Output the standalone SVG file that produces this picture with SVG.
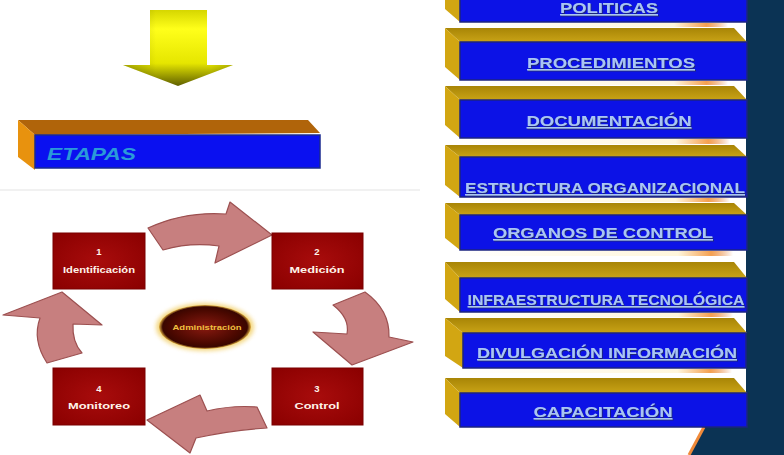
<svg xmlns="http://www.w3.org/2000/svg" width="784" height="455" viewBox="0 0 784 455">
<defs>
<linearGradient id="ygrad" x1="0" y1="0" x2="0" y2="1">
<stop offset="0" stop-color="#d6d600"/><stop offset="0.25" stop-color="#ffff1a"/><stop offset="0.7" stop-color="#e6e600"/><stop offset="1" stop-color="#5e5e00"/>
</linearGradient>
<linearGradient id="yshade" x1="0" y1="0" x2="1" y2="0">
<stop offset="0" stop-color="#000" stop-opacity="0.25"/><stop offset="0.3" stop-color="#000" stop-opacity="0"/><stop offset="0.8" stop-color="#000" stop-opacity="0"/><stop offset="1" stop-color="#000" stop-opacity="0.2"/>
</linearGradient>
<linearGradient id="topface" x1="0" y1="0" x2="0" y2="1">
<stop offset="0" stop-color="#a88506"/><stop offset="1" stop-color="#c9a316"/>
</linearGradient>
<linearGradient id="hl" x1="0" y1="0" x2="1" y2="0">
<stop offset="0" stop-color="#ffffff"/><stop offset="0.8" stop-color="#fff6dc"/><stop offset="0.92" stop-color="#f4a050"/><stop offset="1" stop-color="#e07020" stop-opacity="0"/>
</linearGradient>
<radialGradient id="boxg" cx="0.5" cy="0.5" r="0.7">
<stop offset="0" stop-color="#a80c0c"/><stop offset="1" stop-color="#8a0000"/>
</radialGradient>
<radialGradient id="ellg" cx="0.5" cy="0.5" r="0.5">
<stop offset="0" stop-color="#8a1a10"/><stop offset="0.75" stop-color="#4a0800"/><stop offset="0.92" stop-color="#3a0600"/><stop offset="1" stop-color="#e0b040"/>
</radialGradient>
<filter id="glow" x="-20%" y="-40%" width="140%" height="180%">
<feGaussianBlur stdDeviation="2"/>
</filter>
<filter id="tsh" x="-5%" y="-30%" width="110%" height="160%">
<feDropShadow dx="1" dy="1" stdDeviation="0.4" flood-color="#1a2a70" flood-opacity="0.9"/>
</filter>
</defs>
<style>
.face-top{fill:url(#topface)}
.face-left{fill:#d2a612}
.face-front{fill:#0c12e6;stroke:#1c2480;stroke-width:1.5}
.lbl{font-family:"Liberation Sans",Arial,sans-serif;font-weight:bold;font-size:15px;fill:#a9c5f4;text-anchor:middle;text-decoration:underline;filter:url(#tsh)}
.box{fill:url(#boxg);stroke:#7a0000;stroke-width:1}
.btxt{font-family:"Liberation Sans",Arial,sans-serif;font-weight:bold;font-size:9.5px;fill:#fff4ea;text-anchor:middle}
.carrow{fill:#c77f7f;stroke:#9c5050;stroke-width:1.2;stroke-linejoin:round}
</style>
<rect width="784" height="455" fill="#ffffff"/>
<!-- dark background right -->
<polygon points="746,0 784,0 784,455 689,455 704,427 746,427" fill="#0b3354"/>
<line x1="704" y1="427" x2="689" y2="455" stroke="#f08a3a" stroke-width="3"/>
<line x1="0" y1="190" x2="420" y2="190" stroke="#ececec" stroke-width="1.5"/>

<g id="arrow-down">
<polygon points="150,10 207,10 207,65 233,65 178,86 123,65 150,65" fill="url(#ygrad)"/>
<polygon points="150,10 207,10 207,65 233,65 178,86 123,65 150,65" fill="url(#yshade)"/>
</g>

<g id="etapas">
<polygon points="18,120 308,120 320,133 35,135" fill="#b0640a"/>
<polygon points="18,120 35,135 35,170 18,157" fill="#e8920e"/>
<rect x="35" y="135" width="285" height="33" fill="#0a10f0" stroke="#1a2a90" stroke-width="1.5"/>
<text x="47" y="160" font-family="Liberation Sans,Arial,sans-serif" font-weight="bold" font-style="italic" font-size="17" fill="#2a9ad8" textLength="89" lengthAdjust="spacingAndGlyphs">ETAPAS</text>
</g>

<g id="connectors">
<path class="carrow" d="M148,228 Q185,211 226,214 L230,202 L272,235 L215,263 L219,246 Q190,242 163,250 Z"/>
<path class="carrow" d="M333,305 L365,292 Q390,310 389,337 L413,342 L352,365 L313,332 L347,334 Q350,318 333,305 Z"/>
<path class="carrow" d="M257,407 Q232,405 207,411 L200,395 L147,420 L190,453 L196,438 Q232,430 267,428 Z"/>
<path class="carrow" d="M47,363 Q32,340 40,318 L3,315 L62,292 L102,325 L73,324 Q72,342 82,353 Z"/>
</g>

<g id="step1">
<rect class="box" x="53" y="233" width="92" height="56"/>
<text class="btxt" x="99" y="255">1</text>
<text class="btxt" x="99" y="273" textLength="72" lengthAdjust="spacingAndGlyphs">Identificación</text>
</g>
<g id="step2">
<rect class="box" x="272" y="233" width="91" height="56"/>
<text class="btxt" x="317" y="255">2</text>
<text class="btxt" x="317" y="273" textLength="55" lengthAdjust="spacingAndGlyphs">Medición</text>
</g>
<g id="step3">
<rect class="box" x="272" y="368" width="91" height="57"/>
<text class="btxt" x="317" y="392">3</text>
<text class="btxt" x="317" y="409" textLength="45" lengthAdjust="spacingAndGlyphs">Control</text>
</g>
<g id="step4">
<rect class="box" x="53" y="368" width="92" height="57"/>
<text class="btxt" x="99" y="392">4</text>
<text class="btxt" x="99" y="409" textLength="62" lengthAdjust="spacingAndGlyphs">Monitoreo</text>
</g>
<g id="center">
<ellipse cx="205" cy="327" rx="49" ry="24" fill="#f0c850" filter="url(#glow)" opacity="0.7"/>
<ellipse cx="205" cy="327" rx="46" ry="22" fill="url(#ellg)"/>
<text x="207" y="330" font-family="Liberation Sans,Arial,sans-serif" font-weight="bold" font-size="8" fill="#f0c040" text-anchor="middle" textLength="69" lengthAdjust="spacingAndGlyphs">Administración</text>
</g>

<g id="bar1">
<polygon class="face-left" points="445,-24 460,-11 460,22 445,9"/>
<rect class="face-front" x="460" y="-11" width="287" height="33"/>
<rect x="458" y="23" width="270" height="4" fill="url(#hl)"/>
<text class="lbl" x="609" y="13" textLength="98" lengthAdjust="spacingAndGlyphs">POLITICAS</text>
</g>
<g id="bar2">
<polygon class="face-top" points="445,28 734,28 747,42 460,42"/>
<polygon class="face-left" points="445,28 460,42 460,80 445,67"/>
<rect class="face-front" x="460" y="42" width="287" height="38"/>
<rect x="458" y="81" width="270" height="4" fill="url(#hl)"/>
<text class="lbl" x="611" y="68" textLength="168" lengthAdjust="spacingAndGlyphs">PROCEDIMIENTOS</text>
</g>
<g id="bar3">
<polygon class="face-top" points="445,86 734,86 747,100 460,100"/>
<polygon class="face-left" points="445,86 460,100 460,138 445,125"/>
<rect class="face-front" x="460" y="100" width="287" height="38"/>
<rect x="458" y="139" width="272" height="5" fill="url(#hl)"/>
<text class="lbl" x="609" y="126" textLength="165" lengthAdjust="spacingAndGlyphs">DOCUMENTACIÓN</text>
</g>
<g id="bar4">
<polygon class="face-top" points="445,145 734,145 747,157 460,157"/>
<polygon class="face-left" points="445,145 460,157 460,197 445,185"/>
<rect class="face-front" x="460" y="157" width="287" height="40"/>
<rect x="458" y="198" width="272" height="4" fill="url(#hl)"/>
<text class="lbl" x="605" y="193" textLength="280" lengthAdjust="spacingAndGlyphs">ESTRUCTURA ORGANIZACIONAL</text>
</g>
<g id="bar5">
<polygon class="face-top" points="445,203 734,203 747,215 460,215"/>
<polygon class="face-left" points="445,203 460,215 460,250 445,238"/>
<rect class="face-front" x="460" y="215" width="287" height="35"/>
<rect x="458" y="251" width="275" height="5" fill="url(#hl)"/>
<text class="lbl" x="603" y="238" textLength="220" lengthAdjust="spacingAndGlyphs">ORGANOS DE CONTROL</text>
</g>
<g id="bar6">
<polygon class="face-top" points="445,262 734,262 747,278 460,278"/>
<polygon class="face-left" points="445,262 460,278 460,312 445,299"/>
<rect class="face-front" x="460" y="278" width="287" height="34"/>
<rect x="458" y="313" width="275" height="4" fill="url(#hl)"/>
<text class="lbl" x="606" y="305" textLength="277" lengthAdjust="spacingAndGlyphs">INFRAESTRUCTURA TECNOLÓGICA</text>
</g>
<g id="bar7">
<polygon class="face-top" points="445,318 734,318 747,333 463,333"/>
<polygon class="face-left" points="445,318 463,333 463,368 445,356"/>
<rect class="face-front" x="463" y="333" width="283" height="35"/>
<rect x="460" y="369" width="272" height="4" fill="url(#hl)"/>
<text class="lbl" x="607" y="358" textLength="260" lengthAdjust="spacingAndGlyphs">DIVULGACIÓN INFORMACIÓN</text>
</g>
<g id="bar8">
<polygon class="face-top" points="445,378 734,378 747,393 460,393"/>
<polygon class="face-left" points="445,378 460,393 460,427 445,414"/>
<rect class="face-front" x="460" y="393" width="287" height="34"/>
<text class="lbl" x="603" y="417" textLength="139" lengthAdjust="spacingAndGlyphs">CAPACITACIÓN</text>
</g>
</svg>
